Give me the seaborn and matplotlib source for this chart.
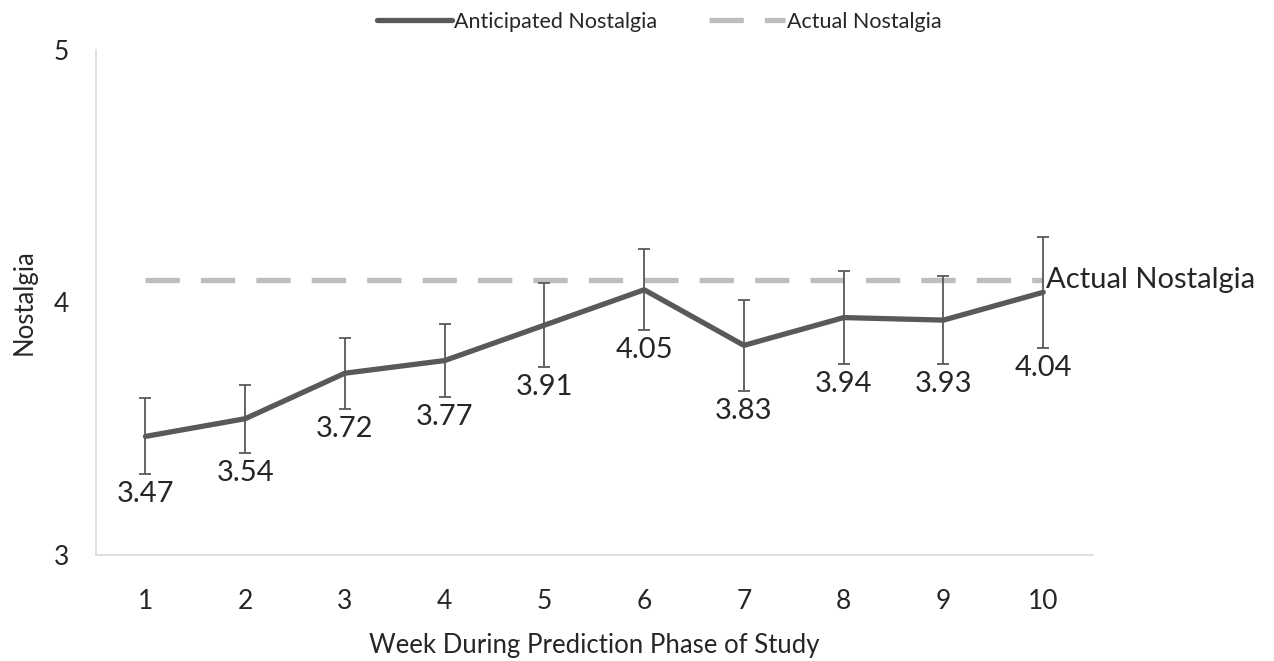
import seaborn as sns
import matplotlib.pyplot as plt
import pandas as pd

weeks = [1, 2, 3, 4, 5, 6, 7, 8, 9, 10]
anticipated = [3.47, 3.54, 3.72, 3.77, 3.91, 4.05, 3.83, 3.94, 3.93, 4.04]
err = [0.15, 0.135, 0.14, 0.145, 0.165, 0.16, 0.18, 0.185, 0.175, 0.22]
actual = [4.09] * 10

dark = '#595959'
light = '#bdbdbd'

def make_table():
    return pd.DataFrame({'week': weeks, 'anticipated': anticipated,
                         'err': err, 'actual': actual})

def nostalgia_plot(df, ax):
    sns.lineplot(x='week', y='actual', data=df, ax=ax, color=light,
                 linewidth=3.8, label='Actual Nostalgia')
    ax.lines[-1].set_dashes((6.5, 4))
    ax.errorbar(df['week'], df['anticipated'], yerr=df['err'], fmt='none',
                ecolor=dark, elinewidth=1.3, capsize=4.5, capthick=1.3, zorder=3)
    sns.lineplot(x='week', y='anticipated', data=df, ax=ax, color=dark,
                 linewidth=3.8, label='Anticipated Nostalgia', zorder=4)
    for w, v, e in zip(df['week'], df['anticipated'], df['err']):
        ax.annotate(f'{v:.2f}', (w, v - e), xytext=(0, -5),
                    textcoords='offset points', ha='center', va='top',
                    fontsize=21)
    ax.annotate('Actual Nostalgia', (10, actual[-1]), xytext=(2, 0),
                textcoords='offset points', ha='left', va='center',
                fontsize=21)

if __name__ == "__main__":
    sns.set_style('white')
    plt.rcParams['font.family'] = ['Lato', 'DejaVu Sans']

    fig = plt.figure(figsize=(12.74, 6.61), dpi=100)
    ax = fig.add_axes([0.075, 0.16, 0.783, 0.765])
    nostalgia_plot(make_table(), ax)

    ax.set_xlim(0.5, 10.5)
    ax.set_ylim(3, 5)
    ax.set_xticks(weeks)
    ax.set_yticks([3, 4, 5])
    ax.tick_params(labelsize=19, length=0)
    ax.tick_params(axis='x', pad=24)
    ax.tick_params(axis='y', pad=19)
    ax.set_xlabel('Week During Prediction Phase of Study', fontsize=18.5, labelpad=14)
    ax.set_ylabel('Nostalgia', fontsize=18.5, labelpad=12)
    for s in ['top', 'right']:
        ax.spines[s].set_visible(False)
    for s in ['left', 'bottom']:
        ax.spines[s].set_color('#d9d9d9')
        ax.spines[s].set_linewidth(1.2)

    handles, labels = ax.get_legend_handles_labels()
    order = [labels.index('Anticipated Nostalgia'), labels.index('Actual Nostalgia')]
    ax.legend([handles[i] for i in order], [labels[i] for i in order],
              loc='lower center', bbox_to_anchor=(0.565, 1.005), ncol=2,
              frameon=False, fontsize=15.5, handlelength=3.5, columnspacing=2.4,
              handletextpad=0.1, borderpad=0.2)

    fig.savefig('out.png', dpi=100)
